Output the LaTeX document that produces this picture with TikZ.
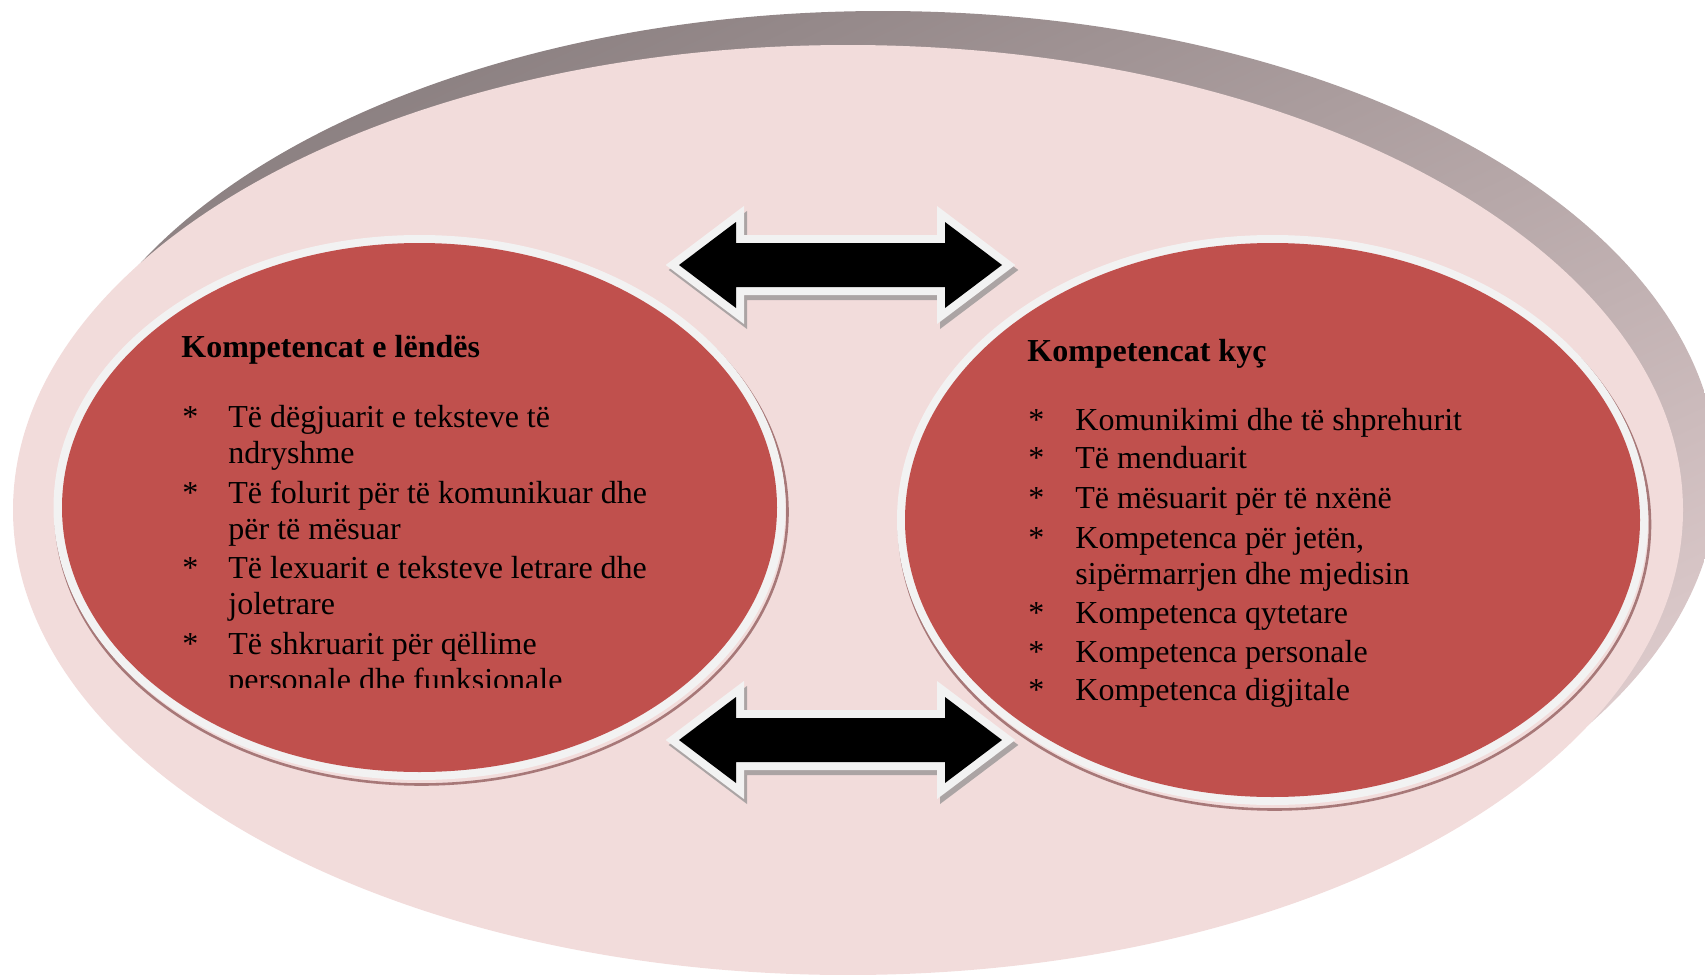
\documentclass[tikz,border=0pt]{standalone}
\usepackage{fontspec}
\setmainfont{Liberation Serif}
\definecolor{pinkbg}{HTML}{F2DCDB}
\definecolor{redfill}{HTML}{C0504D}
\definecolor{rimwhite}{HTML}{F2F2F2}
\definecolor{shadowA}{HTML}{8A7F80}
\definecolor{shadowM}{HTML}{B3A5A6}
\definecolor{shadowB}{HTML}{E2CFD0}
\definecolor{ellshadow}{HTML}{A77878}
\definecolor{arrshadow}{HTML}{ABA4A4}
\tikzset{
  txt/.style={anchor=base west, inner sep=0pt, font=\fontsize{16}{19}\selectfont},
  headtxt/.style={anchor=base west, inner sep=0pt, font=\fontsize{16}{19}\selectfont\bfseries},
  dblarrow/.pic={
    \begin{scope}[shift={(3,5)}]
      \filldraw[arrshadow, line width=8pt, line join=miter]
        (-161.5,0) -- (-104.5,-43) -- (-104.5,-22) -- (104.5,-22) -- (104.5,-43) -- (161.5,0)
        -- (104.5,43) -- (104.5,22) -- (-104.5,22) -- (-104.5,43) -- cycle;
    \end{scope}
    \draw[rimwhite, line width=8pt, line join=miter]
      (-161.5,0) -- (-104.5,-43) -- (-104.5,-22) -- (104.5,-22) -- (104.5,-43) -- (161.5,0)
      -- (104.5,43) -- (104.5,22) -- (-104.5,22) -- (-104.5,43) -- cycle;
    \fill[black]
      (-161.5,0) -- (-104.5,-43) -- (-104.5,-22) -- (104.5,-22) -- (104.5,-43) -- (161.5,0)
      -- (104.5,43) -- (104.5,22) -- (-104.5,22) -- (-104.5,43) -- cycle;
  }
}
\begin{document}
\begin{tikzpicture}[x=0.5pt,y=-0.5pt]
\useasboundingbox (0,0) rectangle (1705,975);
% outer rim shadow and pink ellipse
\shade[top color=shadowA, middle color=shadowM, bottom color=shadowB, shading angle=25]
  (883,476) ellipse [x radius=835, y radius=465];
\fill[pinkbg] (848,510) ellipse [x radius=835, y radius=465];
% left ellipse
\draw[ellshadow, line width=1.3pt] (421.5,512) ellipse [x radius=366, y radius=272.5];
\fill[rimwhite] (419.5,507.5) ellipse [x radius=366, y radius=272.5];
\fill[redfill] (419.5,507.5) ellipse [x radius=357.5, y radius=264.5];
% right ellipse
\draw[ellshadow, line width=1.3pt] (1274.5,524.5) ellipse [x radius=375.5, y radius=285];
\fill[rimwhite] (1272.5,520) ellipse [x radius=375.5, y radius=285];
\fill[redfill] (1272.5,520) ellipse [x radius=367.5, y radius=277];
% arrows
\pic at (840.5,265) {dblarrow};
\pic at (840.5,740) {dblarrow};
% left text
\node[headtxt] (lhead) at (181,357) {Kompetencat e lëndës};
\begin{scope}
\clip (150,300) rectangle (760,687);
\foreach \y [count=\i] in {427,503,578,654}
  \node[txt] (lb\i) at (182,\y) {*};
\foreach \y/\t [count=\i] in {427/Të dëgjuarit e teksteve të, 463/ndryshme,
    503/Të folurit për të komunikuar dhe, 539/për të mësuar,
    578/Të lexuarit e teksteve letrare dhe, 614/joletrare,
    654/Të shkruarit për qëllime, 690/personale dhe funksionale}
  \node[txt] (ll\i) at (228,\y) {\t};
\end{scope}
% right text
\node[headtxt] (rhead) at (1027,361) {Kompetencat kyç};
\foreach \y [count=\i] in {430,468,508,548,623,662,700}
  \node[txt] (rb\i) at (1028,\y) {*};
\foreach \y/\t [count=\i] in {430/Komunikimi dhe të shprehurit, 468/Të menduarit,
    508/Të mësuarit për të nxënë, 548/{Kompetenca për jetën,},
    584/sipërmarrjen dhe mjedisin, 623/Kompetenca qytetare,
    662/Kompetenca personale, 700/Kompetenca digjitale}
  \node[txt] (rl\i) at (1075,\y) {\t};
\end{tikzpicture}
\end{document}
